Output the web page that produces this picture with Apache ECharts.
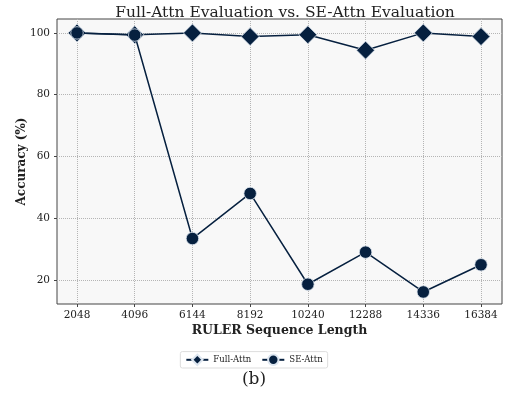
<!DOCTYPE html>
<html>
<head>
<meta charset="utf-8">
<script src="https://cdn.jsdelivr.net/npm/echarts@6/dist/echarts.min.js"></script>
<style>
  html, body { margin: 0; padding: 0; background: #fff; }
  #main { width: 508px; height: 406px; }
</style>
</head>
<body>
<div id="main"></div>
<script>
// sequence lengths on the x axis
const seqLens = [2048, 4096, 6144, 8192, 10240, 12288, 14336, 16384];
const fullAttn = [100, 99.4, 100, 98.8, 99.4, 94.4, 100, 98.8];
const seAttn = [100, 99.3, 33.4, 48.0, 18.6, 29.0, 16.1, 24.9];
const yTicks = [20, 40, 60, 80, 100];

const navy = '#06203f';
const serif = 'DejaVu Serif';

const chart = echarts.init(document.getElementById('main'));

function pairs(vals) {
  return seqLens.map((x, i) => [x, vals[i]]);
}

const option = {
  animation: false,
  title: {
    text: 'Full-Attn Evaluation vs. SE-Attn Evaluation',
    left: 280, top: 0, textAlign: 'center',
    textStyle: { fontFamily: serif, fontSize: 15.5, fontWeight: 'normal', color: '#222' }
  },
  grid: {
    left: 57, right: 6, top: 19, bottom: 102,
    show: true, backgroundColor: '#f8f8f8', borderColor: '#444', borderWidth: 1
  },
  legend: {
    bottom: 38, left: 'center',
    itemWidth: 22, itemHeight: 13, itemGap: 10,
    borderColor: '#ddd', borderWidth: 1, borderRadius: 2, padding: [2, 5],
    textStyle: { fontFamily: serif, fontSize: 8.5, color: '#222' },
    data: ['Full-Attn', 'SE-Attn']
  },
  graphic: [{
    type: 'text', left: 'center', top: 371,
    style: { text: '(b)', fontFamily: serif, fontSize: 17, fill: '#222' }
  }],
  xAxis: {
    type: 'value', min: 1338, max: 17129,
    name: 'RULER Sequence Length', nameLocation: 'middle', nameGap: 20,
    nameMoveOverlap: false,
    nameTextStyle: { fontFamily: serif, fontSize: 12.5, fontWeight: 'bold', color: '#222' },
    axisLine: { show: false },
    axisTick: { show: true, customValues: seqLens, length: 3, lineStyle: { color: '#444' } },
    axisLabel: { customValues: seqLens, formatter: v => String(v), fontFamily: serif, fontSize: 10.5, color: '#222', margin: 6 },
    splitLine: { show: true, lineStyle: { type: 'dotted', color: '#b5b5b5' } }
  },
  yAxis: {
    type: 'value', min: 12.2, max: 104.5,
    name: 'Accuracy (%)', nameLocation: 'middle', nameGap: 29,
    nameMoveOverlap: false,
    nameTextStyle: { fontFamily: serif, fontSize: 12, fontWeight: 'bold', color: '#222' },
    axisLine: { show: false },
    axisTick: { show: true, customValues: yTicks, length: 3, lineStyle: { color: '#444' } },
    axisLabel: { customValues: yTicks, fontFamily: serif, fontSize: 10.5, color: '#222', margin: 7 },
    splitLine: { show: true, lineStyle: { type: 'dotted', color: '#b5b5b5' } }
  },
  series: [
    {
      name: 'Full-Attn', type: 'line', data: pairs(fullAttn),
      symbol: 'diamond', symbolSize: 18, z: 2,
      lineStyle: { color: navy, width: 1.5 },
      itemStyle: { color: navy, borderColor: '#dde6f0', borderWidth: 0.8 }
    },
    {
      name: 'SE-Attn', type: 'line', data: pairs(seAttn),
      symbol: 'circle', symbolSize: 12.5, z: 3,
      lineStyle: { color: navy, width: 1.5 },
      itemStyle: { color: navy, borderColor: '#dde6f0', borderWidth: 0.8 }
    }
  ]
};

chart.setOption(option);
</script>
</body>
</html>
